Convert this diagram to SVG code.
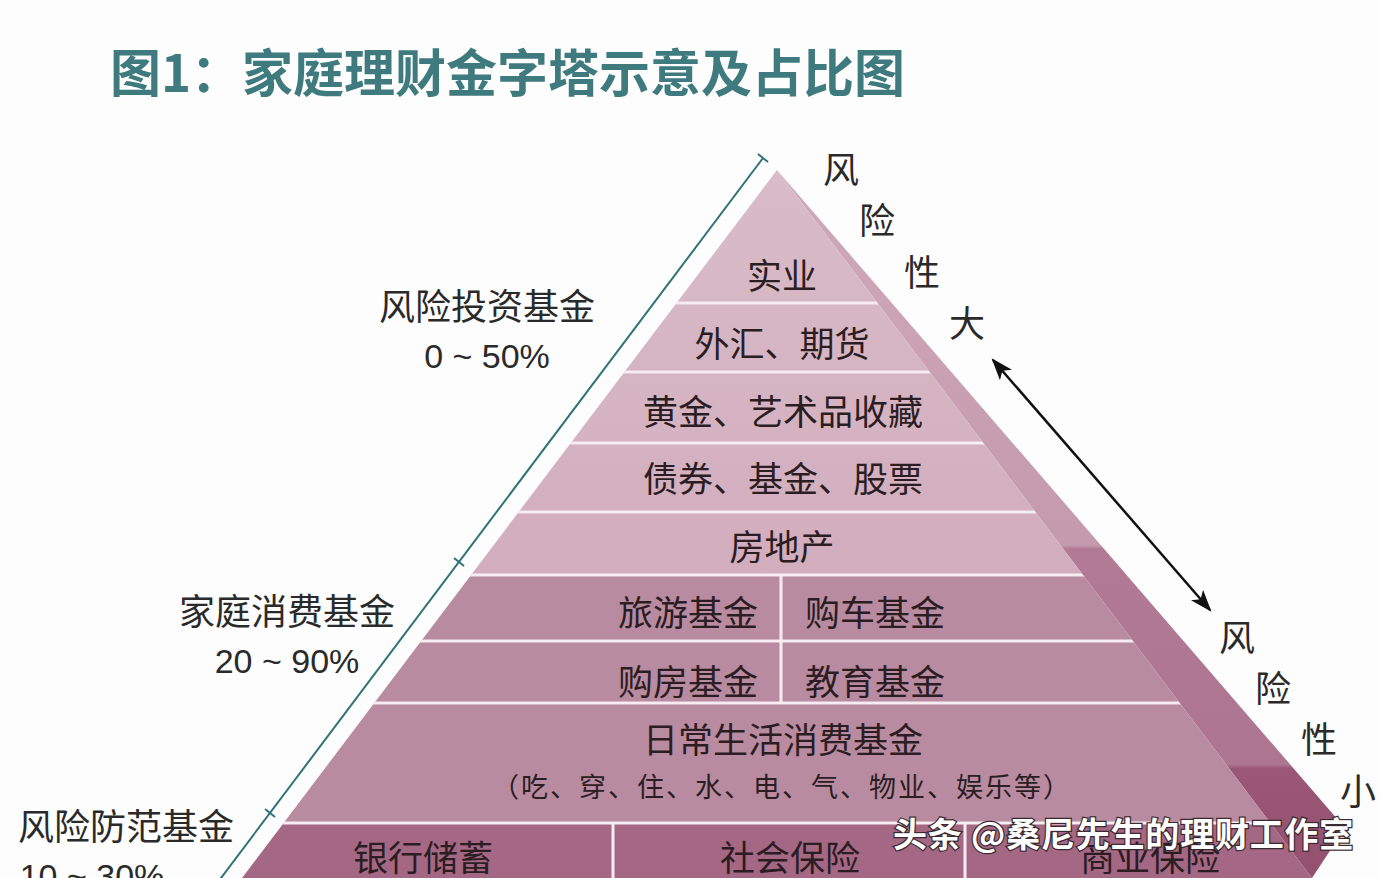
<svg xmlns="http://www.w3.org/2000/svg" width="1380" height="878" viewBox="0 0 1380 878">
<style>
.t{font-family:"Noto Sans CJK SC","Noto Sans",sans-serif;fill:#2b1d22;text-anchor:middle;dominant-baseline:central}
.lab{font-family:"Noto Sans CJK SC","Noto Sans",sans-serif;fill:#2a2a2a;text-anchor:middle;dominant-baseline:central;font-size:36px}
.pct{font-family:"Liberation Sans","Noto Sans",sans-serif;fill:#2a2a2a;text-anchor:middle;dominant-baseline:central;font-size:34px}
.div{stroke:#f6ecf1;stroke-width:3}
.teal{stroke:#2f7379;stroke-width:2;fill:none}
</style>
<defs>
<clipPath id="front"><polygon points="777,170 233,890 1321,890"/></clipPath>
<linearGradient id="topg" x1="0" y1="170" x2="0" y2="575" gradientUnits="userSpaceOnUse">
<stop offset="0" stop-color="#d9bcc8"/><stop offset="1" stop-color="#d2adbd"/>
</linearGradient>
<linearGradient id="sideg" x1="0" y1="170" x2="0" y2="878" gradientUnits="userSpaceOnUse">
<stop offset="0" stop-color="#cfa9b9"/><stop offset="0.53" stop-color="#c49aae"/>
<stop offset="0.535" stop-color="#b27b95"/><stop offset="0.84" stop-color="#ad7590"/>
<stop offset="0.845" stop-color="#9a5776"/><stop offset="1" stop-color="#94506f"/>
</linearGradient>
<marker id="ah" viewBox="0 0 10 10" refX="9" refY="5" markerWidth="22" markerHeight="16" orient="auto-start-reverse" markerUnits="userSpaceOnUse" preserveAspectRatio="none">
<path d="M0,0 L10,5 L0,10 L2.5,5 Z" fill="#111"/>
</marker>
</defs>
<rect width="1380" height="878" fill="#fdfdfd"/>

<text x="110" y="70" font-family="Noto Sans CJK SC,sans-serif" font-weight="bold" font-size="51" fill="#3e7a7e" dominant-baseline="central">图1：家庭理财金字塔示意及占比图</text>

<g id="pyramid">
<polygon points="777,170 1345,828 1312,878 1321,890" fill="url(#sideg)"/>
<g clip-path="url(#front)">
<rect x="200" y="160" width="1200" height="415" fill="url(#topg)"/>
<rect x="200" y="575" width="1200" height="248" fill="#b98ba0"/>
<rect x="200" y="823" width="1200" height="70" fill="#a46784"/>
<line class="div" x1="200" y1="303" x2="1400" y2="303"/>
<line class="div" x1="200" y1="372" x2="1400" y2="372"/>
<line class="div" x1="200" y1="443" x2="1400" y2="443"/>
<line class="div" x1="200" y1="512" x2="1400" y2="512"/>
<line class="div" x1="200" y1="575" x2="1400" y2="575"/>
<line class="div" x1="200" y1="641" x2="1400" y2="641"/>
<line class="div" x1="200" y1="703" x2="1400" y2="703"/>
<line class="div" x1="200" y1="823" x2="1400" y2="823"/>
<line class="div" x1="781" y1="575" x2="781" y2="703"/>
<line class="div" x1="613" y1="823" x2="613" y2="890"/>
<line class="div" x1="965" y1="823" x2="965" y2="890"/>
</g>
</g>

<g id="row-shiye"><text class="t" x="782" y="273" font-size="35">实业</text></g>
<g id="row-waihui"><text class="t" x="782" y="341" font-size="35">外汇、期货</text></g>
<g id="row-huangjin"><text class="t" x="783" y="409" font-size="35">黄金、艺术品收藏</text></g>
<g id="row-zhaiquan"><text class="t" x="783" y="476" font-size="35">债券、基金、股票</text></g>
<g id="row-fangdichan"><text class="t" x="782" y="544" font-size="35">房地产</text></g>
<g id="row-lvyou"><text class="t" x="688" y="610" font-size="35">旅游基金</text></g>
<g id="row-gouche"><text class="t" x="875" y="610" font-size="35">购车基金</text></g>
<g id="row-goufang"><text class="t" x="688" y="679" font-size="35">购房基金</text></g>
<g id="row-jiaoyu"><text class="t" x="875" y="679" font-size="35">教育基金</text></g>
<g id="row-richang">
<text class="t" x="783" y="737" font-size="35">日常生活消费基金</text>
<text class="t" x="782" y="785" font-size="27" letter-spacing="2">（吃、穿、住、水、电、气、物业、娱乐等）</text>
</g>
<g id="row-yinhang"><text class="t" x="423" y="855" font-size="35">银行储蓄</text></g>
<g id="row-shehui"><text class="t" x="790" y="855" font-size="35">社会保险</text></g>
<g id="row-shangye"><text class="t" x="1150" y="855" font-size="35">商业保险</text></g>

<g id="label-fengxian-touzi">
<text class="lab" x="487" y="304">风险投资基金</text>
<text class="pct" x="487" y="356">0 ~ 50%</text>
</g>
<g id="label-jiating">
<text class="lab" x="287" y="609">家庭消费基金</text>
<text class="pct" x="287" y="661">20 ~ 90%</text>
</g>
<g id="label-fangfan">
<text class="lab" x="126" y="824">风险防范基金</text>
<text class="pct" x="92" y="876">10 ~ 30%</text>
</g>

<g id="risk-high">
<text class="lab" x="841" y="167" font-size="33">风</text>
<text class="lab" x="877" y="218" font-size="33">险</text>
<text class="lab" x="922" y="270" font-size="33">性</text>
<text class="lab" x="967" y="321" font-size="33">大</text>
</g>
<g id="risk-low">
<text class="lab" x="1237" y="635" font-size="33">风</text>
<text class="lab" x="1273" y="686" font-size="33">险</text>
<text class="lab" x="1319" y="737" font-size="33">性</text>
<text class="lab" x="1358" y="789" font-size="33">小</text>
</g>

<g id="connectors">
<line class="teal" x1="763" y1="158" x2="212" y2="890"/>
<line class="teal" x1="758" y1="154" x2="768" y2="162"/>
<line class="teal" x1="454" y1="558" x2="464" y2="566"/>
<line class="teal" x1="265" y1="809" x2="275" y2="817"/>
<line x1="993" y1="360" x2="1210" y2="610" stroke="#111" stroke-width="2.5" marker-start="url(#ah)" marker-end="url(#ah)"/>
</g>

<g id="watermark">
<text x="893" y="832" font-family="Noto Sans CJK SC,sans-serif" font-size="34" font-weight="bold" letter-spacing="0.8" fill="#ffffff" stroke="#3a2a30" stroke-width="2.5" paint-order="stroke" dominant-baseline="central">头条 @桑尼先生的理财工作室</text>
</g>
</svg>
